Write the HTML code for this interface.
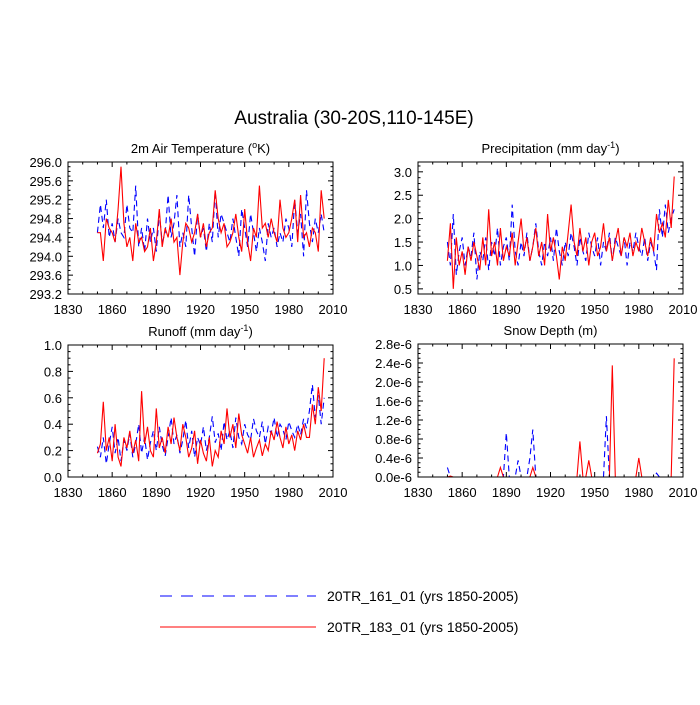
<!DOCTYPE html>
<html><head><meta charset="utf-8"><style>
body{margin:0;background:#fff;width:700px;height:700px;overflow:hidden}
svg{font-family:"Liberation Sans",sans-serif}
</style></head><body>
<svg id="chart" width="700" height="700" viewBox="0 0 700 700" xmlns="http://www.w3.org/2000/svg">
<text x="354" y="124" font-size="19" text-anchor="middle">Australia (30-20S,110-145E)</text>
<g>
<line x1="160" y1="596" x2="316" y2="596" stroke="#0000ff" stroke-width="1" stroke-dasharray="12,9"/>
<text x="327" y="601" font-size="14">20TR_161_01 (yrs 1850-2005)</text>
<line x1="160" y1="627" x2="316" y2="627" stroke="#ff0000" stroke-width="1"/>
<text x="327" y="632" font-size="14">20TR_183_01 (yrs 1850-2005)</text>
</g>
</svg>
<script>
const years = Array.from({length:78},(_, i)=>1850+2*i);
const tempBlue=[294.5,295.1,294.6,295.2,294.4,294.7,294.3,294.8,294.5,294.4,
295.1,294.6,294.5,295.5,294.2,294.6,294.1,294.8,294.3,294.6,
294.1,294.9,294.3,294.5,295.3,294.4,294.7,295.3,294.2,294.5,
294.2,295.3,294.6,294.0,294.9,294.4,294.6,294.1,294.7,294.3,
295.4,294.4,294.9,294.7,294.5,294.3,294.8,294.4,294.0,295.0,
294.6,294.2,294.9,294.5,294.1,294.6,294.3,293.9,294.7,294.4,
294.6,294.2,294.5,294.3,294.8,294.6,294.2,295.2,294.5,294.9,
294.0,295.4,294.7,294.3,294.8,294.5,294.9,294.5];
const tempRed=[294.5,294.5,293.9,294.8,294.6,294.5,294.3,295.0,295.9,294.7,
294.2,294.4,293.9,294.7,294.3,294.4,294.1,294.2,294.6,293.9,
294.3,295.0,294.2,294.6,294.4,294.8,294.3,294.4,293.6,294.3,
294.7,294.6,294.3,294.5,294.9,294.4,294.7,294.2,294.5,294.6,
295.4,294.8,294.5,294.7,294.2,294.3,294.5,294.9,294.4,294.1,
295.0,294.3,293.9,294.6,294.4,295.5,294.6,294.7,294.4,294.8,
294.5,294.3,295.2,294.6,294.4,294.5,294.8,295.2,294.3,295.3,
294.4,294.5,294.2,294.6,294.5,294.1,295.4,294.8];
const precBlue=[1.5,1.0,2.1,0.8,1.3,1.6,1.0,1.4,1.2,1.7,
0.7,1.3,1.1,1.6,0.9,1.5,1.2,1.8,1.0,1.4,
1.6,1.1,2.3,1.3,1.0,1.5,1.2,1.7,1.1,1.4,
1.9,1.3,1.0,1.5,1.2,1.6,1.1,1.8,1.3,1.0,
1.5,1.2,1.7,1.4,1.0,1.6,1.3,1.1,1.7,1.4,
1.2,1.6,1.0,1.5,1.3,1.7,1.1,1.6,1.4,1.2,
1.6,1.0,1.5,1.3,1.7,1.4,1.2,1.6,1.1,1.5,
1.3,0.9,2.2,1.6,2.3,1.7,2.0,2.2];
const precRed=[1.1,1.9,0.5,1.6,1.0,1.3,0.8,1.4,1.1,1.5,
1.2,0.9,1.6,1.0,2.2,1.2,1.5,1.0,1.8,1.1,
1.4,1.2,1.7,1.0,1.5,2.0,1.3,1.6,1.1,1.4,
1.8,1.2,1.5,1.0,2.1,1.3,1.6,1.2,0.7,1.4,
1.1,1.7,2.3,1.5,1.2,1.8,1.3,1.6,1.0,1.5,
1.7,1.2,1.4,1.9,1.3,1.6,1.1,1.5,1.8,1.2,
1.6,1.4,1.7,1.2,1.5,1.3,1.8,1.5,1.2,1.6,
1.3,2.1,1.7,1.9,1.6,2.4,1.8,2.9];
const runBlue=[0.23,0.15,0.30,0.10,0.25,0.38,0.18,0.30,0.12,0.28,
0.20,0.33,0.15,0.25,0.40,0.18,0.30,0.13,0.26,0.35,
0.20,0.38,0.24,0.16,0.30,0.45,0.25,0.32,0.18,0.28,
0.43,0.22,0.35,0.15,0.30,0.24,0.38,0.20,0.30,0.46,
0.26,0.33,0.20,0.42,0.28,0.35,0.22,0.45,0.30,0.25,
0.40,0.32,0.28,0.44,0.35,0.30,0.42,0.25,0.38,0.33,
0.45,0.30,0.40,0.36,0.28,0.42,0.35,0.30,0.40,0.32,
0.44,0.37,0.50,0.70,0.45,0.62,0.40,0.60];
const runRed=[0.18,0.25,0.57,0.20,0.30,0.12,0.40,0.15,0.08,0.30,
0.22,0.35,0.18,0.28,0.12,0.65,0.25,0.38,0.20,0.15,
0.52,0.22,0.30,0.18,0.38,0.25,0.45,0.30,0.20,0.40,
0.30,0.15,0.22,0.35,0.10,0.28,0.18,0.12,0.30,0.08,
0.20,0.15,0.35,0.25,0.52,0.30,0.40,0.22,0.48,0.32,
0.25,0.18,0.30,0.15,0.22,0.28,0.16,0.25,0.20,0.35,
0.28,0.42,0.30,0.22,0.38,0.25,0.32,0.20,0.35,0.28,
0.40,0.30,0.30,0.55,0.40,0.68,0.50,0.90];
const snowBlue=[0.2,0,0,0,0,0,0,0,0,0,
0,0,0,0,0,0,0,0,0,0,
0.93,0,0,0,0.35,0,0,0,0.4,1.0,
0,0,0,0,0,0,0,0,0,0,
0,0,0,0,0,0,0,0,0,0,
0,0,0,0,1.28,0,0,0,0,0,
0,0,0,0,0,0,0,0,0,0,
0,0.08,0,0,0,0,0,0];
const snowRed=[0,0.02,0,0,0,0,0,0,0,0,
0,0,0,0,0,0,0,0,0.2,0,
0,0,0,0,0,0,0,0,0,0.2,
0,0,0,0,0,0,0,0,0,0,
0,0,0,0,0,0.75,0,0,0.35,0,
0,0,0,0,0,0,2.35,0,0,0,
0,0,0,0,0,0.4,0,0,0,0,
0,0,0,0,0,0,0,2.5];
const xTicks=[1830,1860,1890,1920,1950,1980,2010];
const tempTicks=[293.2,293.6,294.0,294.4,294.8,295.2,295.6,296.0];
const precTicks=[0.5,1.0,1.5,2.0,2.5,3.0];
const runTicks=[0.0,0.2,0.4,0.6,0.8,1.0];
const snowTicks=[0,0.4,0.8,1.2,1.6,2.0,2.4,2.8];
const snowTickLabels=["0.0e-6","0.4e-6","0.8e-6","1.2e-6","1.6e-6","2.0e-6","2.4e-6","2.8e-6"];

const NS="http://www.w3.org/2000/svg";
const svg=document.getElementById('chart');
function mk(tag,attrs,parent){const e=document.createElementNS(NS,tag);for(const k in attrs)e.setAttribute(k,attrs[k]);(parent||svg).appendChild(e);return e;}

function panel(p){
  const g=mk('g',{});
  
  
  const X=v=>p.x0+(v-1830)/180*(p.x1-p.x0);
  const Y=v=>p.y1-(v-p.ymin)/(p.ymax-p.ymin)*(p.y1-p.y0);
  // series
  p.series.forEach(s=>{
    const d=years.map((yr,i)=>(i?'L':'M')+X(yr).toFixed(1)+','+Y(s.vals[i]).toFixed(1)).join('');
    const path=mk('path',{d:d,fill:'none',stroke:s.color,'stroke-width':1.1,'stroke-dasharray':s.dash||'none'},g);
    
    
  });
  const frame=mk('rect',{x:p.x0,y:p.y0,width:p.x1-p.x0,height:p.y1-p.y0,fill:'none',stroke:'#000','stroke-width':1},g);
  
  
  // x ticks
  xTicks.forEach(t=>{
    const x=X(t);
    mk('line',{x1:x,y1:p.y1,x2:x,y2:p.y1-5,stroke:'#000'},g);
    mk('line',{x1:x,y1:p.y0,x2:x,y2:p.y0+5,stroke:'#000'},g);
    const lb=mk('text',{x:x,y:p.y1+20,'font-size':13,'text-anchor':'middle'},g);
    lb.textContent=t;
    
    
  });
  for(let t=1840;t<2010;t+=10){if((t-1830)%30===0)continue;const x=X(t);
    mk('line',{x1:x,y1:p.y1,x2:x,y2:p.y1-2.5,stroke:'#000'},g);
    mk('line',{x1:x,y1:p.y0,x2:x,y2:p.y0+2.5,stroke:'#000'},g);}
  // y ticks
  const step=p.ticks[1]-p.ticks[0];
  p.ticks.forEach((t,i)=>{
    const y=Y(t);
    mk('line',{x1:p.x0,y1:y,x2:p.x0+5,y2:y,stroke:'#000'},g);
    mk('line',{x1:p.x1,y1:y,x2:p.x1-5,y2:y,stroke:'#000'},g);
    const lb=mk('text',{x:p.x0-6,y:y+5,'font-size':13,'text-anchor':'end'},g);
    lb.textContent=p.labels?p.labels[i]:t.toFixed(1);
    
    
    for(let k=1;k<4;k++){const v=t+k*step/4;const yy=Y(v);if(yy<p.y0||yy>p.y1)continue;
      mk('line',{x1:p.x0,y1:yy,x2:p.x0+2.5,y2:yy,stroke:'#000'},g);
      mk('line',{x1:p.x1,y1:yy,x2:p.x1-2.5,y2:yy,stroke:'#000'},g);}
  });
  const ti=mk('text',{x:(p.x0+p.x1)/2,y:p.y0-9,'font-size':13,'text-anchor':'middle'},g);
  ti.innerHTML=p.title;
  
  
}
const B='#0000ff',R='#ff0000',D='6,4';
panel({name:'panel-temperature',x0:68,x1:333,y0:162,y1:294,ymin:293.2,ymax:296.0,ticks:tempTicks,
  title:'2m Air Temperature (<tspan dy="-5" font-size="9">o</tspan><tspan dy="5">K)</tspan>',
  series:[{id:'temp-161',vals:tempBlue,color:B,dash:D},{id:'temp-183',vals:tempRed,color:R}]});
panel({name:'panel-precipitation',x0:418,x1:683,y0:162,y1:294,ymin:0.39,ymax:3.21,ticks:precTicks,
  title:'Precipitation (mm day<tspan dy="-5" font-size="9">-1</tspan><tspan dy="5">)</tspan>',
  series:[{id:'prec-161',vals:precBlue,color:B,dash:D},{id:'prec-183',vals:precRed,color:R}]});
panel({name:'panel-runoff',x0:68,x1:333,y0:345,y1:477,ymin:0,ymax:1.0,ticks:runTicks,
  title:'Runoff (mm day<tspan dy="-5" font-size="9">-1</tspan><tspan dy="5">)</tspan>',
  series:[{id:'runoff-161',vals:runBlue,color:B,dash:D},{id:'runoff-183',vals:runRed,color:R}]});
panel({name:'panel-snow-depth',x0:418,x1:683,y0:344,y1:477,ymin:0,ymax:2.8,ticks:snowTicks,labels:snowTickLabels,
  title:'Snow Depth (m)',
  series:[{id:'snow-161',vals:snowBlue,color:B,dash:D},{id:'snow-183',vals:snowRed,color:R}]});
</script>
</body></html>
